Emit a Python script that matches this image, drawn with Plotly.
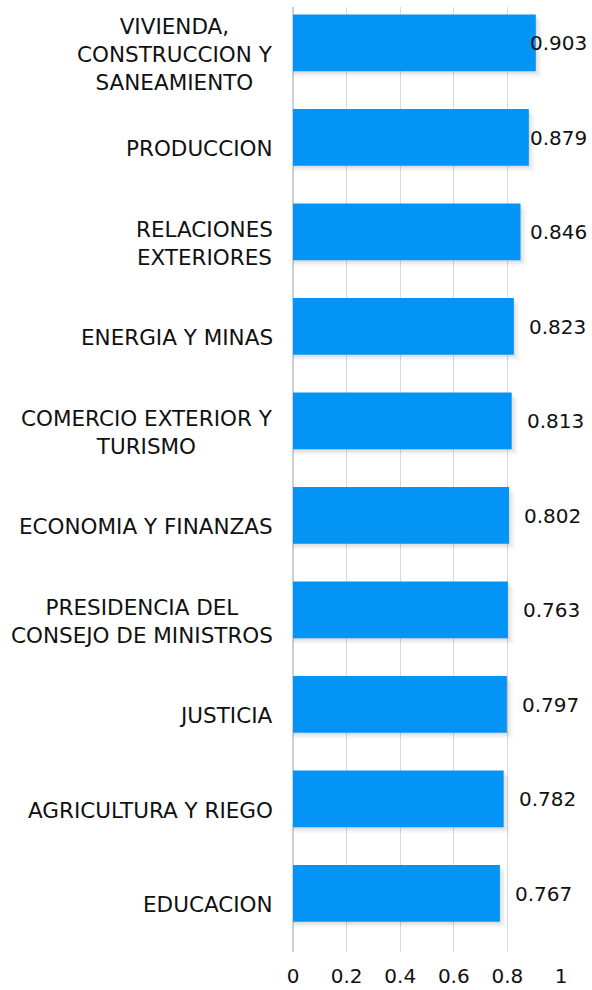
import plotly.graph_objects as go

categories = [
    "VIVIENDA,<br>CONSTRUCCION Y<br>SANEAMIENTO",
    "PRODUCCION",
    "RELACIONES<br>EXTERIORES",
    "ENERGIA Y MINAS",
    "COMERCIO EXTERIOR Y<br>TURISMO",
    "ECONOMIA Y FINANZAS",
    "PRESIDENCIA DEL<br>CONSEJO DE MINISTROS",
    "JUSTICIA",
    "AGRICULTURA Y RIEGO",
    "EDUCACION",
]
bar_values = [0.906, 0.880, 0.849, 0.824, 0.816, 0.806, 0.802, 0.798, 0.786, 0.772]
value_labels = ["0.903", "0.879", "0.846", "0.823", "0.813", "0.802", "0.763", "0.797", "0.782", "0.767"]
x_ticks = [0, 0.2, 0.4, 0.6, 0.8, 1]

FONT = "DejaVu Sans"
BAR_COLOR = "#0394F5"

fig = go.Figure()

# soft shadow layers
for dx, dy, alpha in [(0.022, 0.06, 0.03), (0.014, 0.04, 0.04), (0.006, 0.02, 0.05)]:
    fig.add_trace(go.Bar(
        y=categories, x=[v + dx for v in bar_values], orientation="h",
        width=0.6, offset=-0.42 + dy,
        marker=dict(color=f"rgba(0,0,0,{alpha})", line=dict(width=0)),
        hoverinfo="skip", showlegend=False,
    ))

fig.add_trace(go.Bar(
    y=categories, x=bar_values, orientation="h",
    width=0.6, offset=-0.42,
    marker=dict(color=BAR_COLOR, line=dict(width=0)),
    showlegend=False,
))

annotations = []
for cat, v, lab in zip(categories, bar_values, value_labels):
    annotations.append(dict(
        x=min(v + 0.056, 0.884), y=cat, xref="x", yref="y",
        text=lab, showarrow=False, xanchor="left", yanchor="middle",
        yshift=11, xshift=-2,
        font=dict(family=FONT, size=20, color="#111111"),
    ))
    annotations.append(dict(
        x=0, y=cat, xref="paper", yref="y",
        text=cat, showarrow=False, xanchor="right", yanchor="middle",
        align="center", xshift=-18,
        font=dict(family=FONT, size=21.5, color="#111111"),
    ))

fig.update_layout(
    width=592, height=990,
    margin=dict(l=293, r=31, t=7, b=38),
    paper_bgcolor="white", plot_bgcolor="white",
    barmode="overlay",
    annotations=annotations,
    xaxis=dict(
        range=[0, 1], tickvals=x_ticks, ticktext=[f"{t:g}" for t in x_ticks],
        showgrid=True, gridcolor="#d9d9d9", gridwidth=1,
        zeroline=True, zerolinecolor="#cfcfcf", zerolinewidth=2,
        showline=False, ticks="",
        tickfont=dict(family=FONT, size=20, color="#111111"),
        ticklabelstandoff=10,
        automargin=False,
        fixedrange=True,
    ),
    yaxis=dict(
        autorange="reversed", showticklabels=False, showgrid=False,
        zeroline=False, showline=False, ticks="",
        automargin=False,
        fixedrange=True,
    ),
)

fig.write_html(
    "out.html",
    config={"displayModeBar": False},
    post_script="document.body.style.margin='0';document.body.style.overflow='hidden';",
)
